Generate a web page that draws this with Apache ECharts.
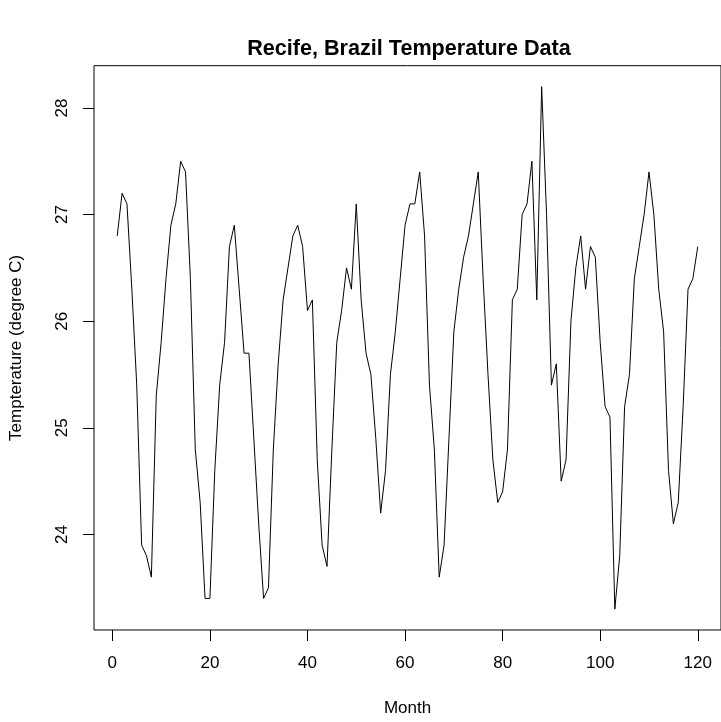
<!DOCTYPE html>
<html>
<head>
<meta charset="utf-8">
<script src="https://cdn.jsdelivr.net/npm/echarts@6/dist/echarts.min.js"></script>
<style>
html,body{margin:0;padding:0;background:#fff;}
#chart{width:721px;height:722px;}
</style>
</head>
<body>
<div id="chart"></div>
<script>
const titleText = "Recife, Brazil Temperature Data";
const xName = "Month";
const yName = "Tempterature (degree C)";
const months = [1,2,3,4,5,6,7,8,9,10,11,12,13,14,15,16,17,18,19,20,
  21,22,23,24,25,26,27,28,29,30,31,32,33,34,35,36,37,38,39,40,
  41,42,43,44,45,46,47,48,49,50,51,52,53,54,55,56,57,58,59,60,
  61,62,63,64,65,66,67,68,69,70,71,72,73,74,75,76,77,78,79,80,
  81,82,83,84,85,86,87,88,89,90,91,92,93,94,95,96,97,98,99,100,
  101,102,103,104,105,106,107,108,109,110,111,112,113,114,115,116,117,118,119,120];
const temperature = [
  26.8,27.2,27.1,26.3,25.4,23.9,23.8,23.6,25.3,25.8,26.4,26.9,
  27.1,27.5,27.4,26.4,24.8,24.3,23.4,23.4,24.6,25.4,25.8,26.7,
  26.9,26.3,25.7,25.7,24.9,24.1,23.4,23.5,24.8,25.6,26.2,26.5,
  26.8,26.9,26.7,26.1,26.2,24.7,23.9,23.7,24.8,25.8,26.1,26.5,
  26.3,27.1,26.2,25.7,25.5,24.9,24.2,24.6,25.5,25.9,26.4,26.9,
  27.1,27.1,27.4,26.8,25.4,24.8,23.6,23.9,24.9,25.9,26.3,26.6,
  26.8,27.1,27.4,26.4,25.5,24.7,24.3,24.4,24.8,26.2,26.3,27.0,
  27.1,27.5,26.2,28.2,27.0,25.4,25.6,24.5,24.7,26.0,26.5,26.8,
  26.3,26.7,26.6,25.8,25.2,25.1,23.3,23.8,25.2,25.5,26.4,26.7,
  27.0,27.4,27.0,26.3,25.9,24.6,24.1,24.3,25.2,26.3,26.4,26.7];
const xTicks = [0,20,40,60,80,100,120];
const yTicks = [24,25,26,27,28];

const font = "'Liberation Sans', Arial, Helvetica, sans-serif";
const chart = echarts.init(document.getElementById('chart'), null, {renderer:'canvas'});
const seriesData = months.map((m, i) => [m, temperature[i]]);
chart.setOption({
  animation: false,
  backgroundColor: '#fff',
  title: {
    text: titleText,
    left: 404,
    top: 33,
    textAlign: 'center',
    textStyle: {fontFamily: font, fontWeight: 'bold', fontSize: 21.6, color: '#000'}
  },
  grid: {
    left: 93.2, top: 65.7, width: 632.2, height: 564.9,
    show: true, borderColor: '#000', borderWidth: 1, backgroundColor: 'transparent'
  },
  xAxis: {
    type: 'value', min: -3.76, max: 124.76,
    name: xName, nameLocation: 'middle', nameGap: 70,
    nameTextStyle: {fontFamily: font, fontSize: 17, color: '#000'},
    axisLine: {show: false, onZero: false},
    axisTick: {show: true, customValues: xTicks, length: 11, lineStyle: {color: '#000'}},
    axisLabel: {customValues: xTicks, margin: 25, fontFamily: font, fontSize: 17, color: '#000'},
    splitLine: {show: false}
  },
  yAxis: {
    type: 'value', min: 23.104, max: 28.396,
    name: yName, nameLocation: 'middle', nameGap: 69, nameRotate: 90,
    nameTextStyle: {fontFamily: font, fontSize: 17, color: '#000'},
    axisLine: {show: false, onZero: false},
    axisTick: {show: true, customValues: yTicks, length: 11, lineStyle: {color: '#000'}},
    axisLabel: {customValues: yTicks, rotate: 90, margin: 23.5, fontFamily: font, fontSize: 17, color: '#000'},
    splitLine: {show: false}
  },
  series: [{
    type: 'line', data: seriesData, showSymbol: false, symbol: 'none',
    lineStyle: {color: '#000', width: 1}, silent: true
  }]
});
</script>
</body>
</html>
